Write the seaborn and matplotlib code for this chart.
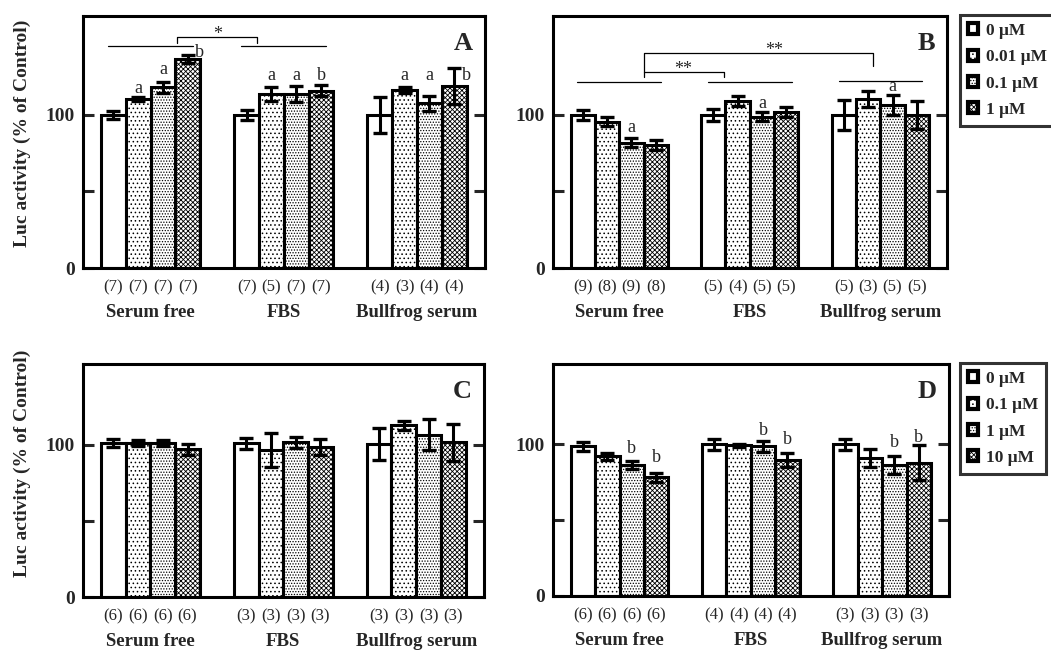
import numpy as np
import pandas as pd
import seaborn as sns
import matplotlib
matplotlib.use("Agg")
import matplotlib.pyplot as plt
from matplotlib.patches import Patch
from matplotlib.container import BarContainer

sns.set_style("white")
plt.rcParams["font.family"] = ["Liberation Serif", "DejaVu Serif"]
plt.rcParams["hatch.linewidth"] = 0.6
plt.rcParams["mathtext.default"] = "regular"

# ---------------- data ----------------
groups = ["Serum free", "FBS", "Bullfrog serum"]
conc_AB = ["0 μM", "0.01 μM", "0.1 μM", "1 μM"]
conc_CD = ["0 μM", "0.1 μM", "1 μM", "10 μM"]

# rows = groups, columns = concentrations
a_mean = [[100, 110.5, 118.0, 136.8], [100, 113.7, 113.7, 115.9], [100, 116.3, 107.6, 119.0]]
a_err = [[2.5, 1.5, 3.6, 2.6], [3.5, 4.7, 5.0, 3.5], [12.0, 2.0, 4.9, 12.0]]
a_n = [[7, 7, 7, 7], [7, 5, 7, 7], [4, 3, 4, 4]]

b_mean = [[100, 95.6, 81.9, 80.4], [100, 109.4, 98.8, 101.8], [100, 110.5, 106.5, 100]]
b_err = [[3.0, 3.0, 3.0, 3.3], [4.0, 3.3, 3.0, 3.3], [10.0, 5.4, 6.5, 9.2]]
b_n = [[9, 8, 9, 8], [5, 4, 5, 5], [5, 3, 5, 5]]

c_mean = [[101, 101, 101, 97], [100.8, 96.5, 101.5, 98.5], [100.5, 112.7, 106.6, 101.5]]
c_err = [[2.6, 2.0, 2.0, 3.5], [3.6, 11.0, 3.6, 5.2], [10.6, 3.0, 10.4, 12.3]]
c_n = [[6, 6, 6, 6], [3, 3, 3, 3], [3, 3, 3, 3]]

d_mean = [[98.8, 92.1, 86.4, 78.4], [100.1, 99.3, 98.6, 89.6], [100, 91.1, 86.5, 88.0]]
d_err = [[3.0, 2.4, 2.5, 3.0], [3.6, 1.0, 3.5, 4.6], [3.7, 6.0, 6.0, 11.4]]
d_n = [[6, 6, 6, 6], [4, 4, 4, 4], [3, 3, 3, 3]]

# letters: (group, concentration index, letter, y value, placed right of bar?)
a_letters = [(0, 1, "a", 117, False), (0, 2, "a", 130, False), (0, 3, "b", 141, True),
             (1, 1, "a", 126, False), (1, 2, "a", 126, False), (1, 3, "b", 126, False),
             (2, 1, "a", 126, False), (2, 2, "a", 126, False), (2, 3, "b", 126, True)]
b_letters = [(0, 2, "a", 91.5, False), (1, 2, "a", 107.8, False), (2, 2, "a", 118.3, False)]
c_letters = []
d_letters = [(0, 2, "b", 97.4, False), (0, 3, "b", 91.6, False),
             (1, 2, "b", 109.2, False), (1, 3, "b", 103.0, False),
             (2, 2, "b", 101.1, False), (2, 3, "b", 104.6, False)]

# group lines (group index, y) and brackets (x0, x1, top, leg0 bottom, leg1 bottom, label, label x)
a_lines = [(0, 145), (1, 145)]
a_brackets = [(0.2, 0.8, 151, 147.3, 147.3, "*", 0.5)]
b_lines = [(0, 121.6), (1, 121.6), (2, 122.0)]
b_brackets = [(0.19, 0.805, 128.3, 124.8, 124.8, "**", 0.49),
              (0.19, 1.943, 140.3, 128.3, 132.2, "**", 1.19)]

hatches = ["", "....", "......", "xxxxxxx"]

# ---------------- figure ----------------
W, H = 1051, 652
fig = plt.figure(figsize=(W / 100, H / 100), dpi=100)
axA = fig.add_axes([83 / W, 1 - 268 / H, 402 / W, 252 / H])
axB = fig.add_axes([553 / W, 1 - 268 / H, 394 / W, 252 / H])
axC = fig.add_axes([83 / W, 1 - 597 / H, 401 / W, 233 / H])
axD = fig.add_axes([553 / W, 1 - 596 / H, 396 / W, 232 / H])

LW = 2.2


def panel(ax, mean, err, ns, conc, letters, lines, brackets, tag, ytop):
    rows = []
    for gi, g in enumerate(groups):
        for ci, c in enumerate(conc):
            rows.append({"group": g, "conc": c, "value": mean[gi][ci]})
    df = pd.DataFrame(rows)
    sns.barplot(data=df, x="group", y="value", hue="conc", order=groups, hue_order=conc,
                palette={c: "white" for c in conc}, saturation=1, edgecolor="black",
                linewidth=LW, width=0.745, gap=0, errorbar=None, legend=False, ax=ax)
    bar_containers = [c for c in ax.containers if isinstance(c, BarContainer)]
    centers = {}
    for ci, cont in enumerate(bar_containers):
        for gi, p in enumerate(cont.patches):
            p.set_hatch(hatches[ci])
            p.set_zorder(2)
            x = p.get_x() + p.get_width() / 2
            centers[(gi, ci)] = x
    for (gi, ci), x in centers.items():
        ax.errorbar(x, mean[gi][ci], yerr=err[gi][ci], fmt="none", ecolor="black",
                    elinewidth=2.2, capsize=5, capthick=2.4, zorder=5)
        ax.annotate(f"({ns[gi][ci]})", xy=(x, 0), xycoords=("data", "axes fraction"),
                    xytext=(0, -19), textcoords="offset pixels", ha="center", va="center",
                    fontsize=12, annotation_clip=False)
    for gi, ci, letter, yv, right in letters:
        x = centers[(gi, ci)]
        ax.annotate(letter, xy=(x, yv), xytext=(12 if right else 0, 0),
                    textcoords="offset pixels", ha="center", va="center", fontsize=13,
                    zorder=6)
    for gi, yv in lines:
        ax.plot([gi - 0.32, gi + 0.32], [yv, yv], color="black", lw=0.9)
    for x0, x1, top, b0, b1, lab, lx in brackets:
        ax.plot([x0, x0, x1, x1], [b0, top, top, b1], color="black", lw=0.9)
        ax.annotate(lab, xy=(lx, top), xytext=(0, -2), textcoords="offset pixels",
                    ha="center", va="baseline", fontsize=13)
    ax.set_xlim(-0.507, 2.51)
    ax.set_ylim(0, ytop)
    ax.set_yticks([0, 50, 100])
    ax.set_yticklabels(["0", "", "100"])
    ax.set_xlabel("")
    ax.set_ylabel("")
    ax.tick_params(axis="y", direction="in", length=8, width=2.2, left=True, right=True,
                   labelsize=14, pad=6)
    ax.tick_params(axis="x", length=0, labelsize=13.5, pad=26)
    for lab in ax.get_yticklabels() + ax.get_xticklabels():
        lab.set_fontweight("bold")
    for s in ax.spines.values():
        s.set_visible(True)
        s.set_linewidth(LW)
        s.set_color("black")
    ax.annotate(tag, xy=(1, 1), xycoords="axes fraction", xytext=(-12, -16),
                textcoords="offset pixels", ha="right", va="top", fontsize=19,
                fontweight="bold")


panel(axA, a_mean, a_err, a_n, conc_AB, a_letters, a_lines, a_brackets, "A", 164.7)
panel(axB, b_mean, b_err, b_n, conc_AB, b_letters, b_lines, b_brackets, "B", 164.7)
panel(axC, c_mean, c_err, c_n, conc_CD, c_letters, [], [], "C", 153)
panel(axD, d_mean, d_err, d_n, conc_CD, d_letters, [], [], "D", 153)

for yc in (133, 463):
    fig.text(22 / W, 1 - yc / H, "Luc activity (% of Control)", rotation=90, ha="center",
             va="center", fontsize=14, fontweight="bold")


def legend(conc, ytop):
    handles = [Patch(facecolor="white", edgecolor="black", hatch=h, linewidth=3) for h in hatches]
    leg = fig.legend(handles, conc, loc="upper left", bbox_to_anchor=(960 / W, 1 - ytop / H),
                     bbox_transform=fig.transFigure, frameon=True, fancybox=False,
                     handlelength=0.6, handleheight=0.6, handletextpad=0.45,
                     labelspacing=0.6, borderpad=0.45, borderaxespad=0,
                     prop={"weight": "bold", "size": 12.5})
    leg.get_frame().set_edgecolor("black")
    leg.get_frame().set_linewidth(LW)
    return leg


legend(conc_AB, 15)
legend(conc_CD, 363)

fig.savefig("out.png", dpi=100)
